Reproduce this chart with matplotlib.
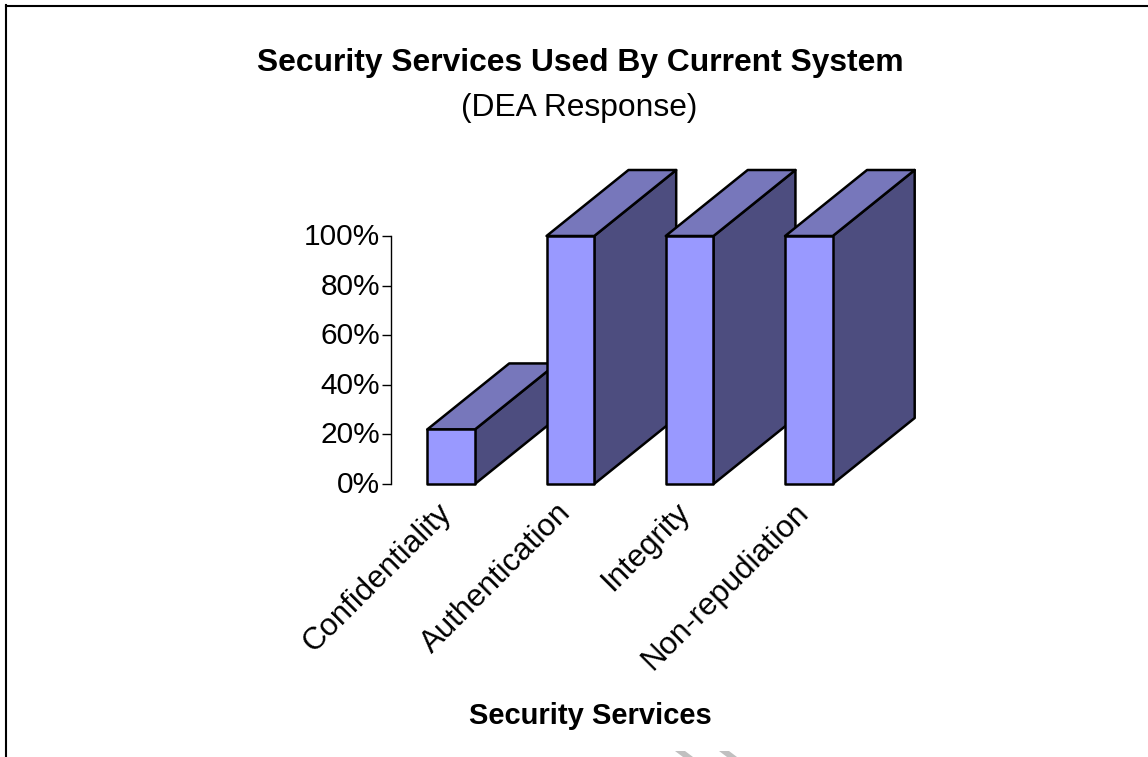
import matplotlib
matplotlib.use("Agg")
from matplotlib import pyplot as plt
from matplotlib.lines import Line2D
from matplotlib.patches import Polygon
from matplotlib.transforms import ScaledTranslation

plt.rcParams["font.family"] = ["Liberation Sans", "DejaVu Sans"]

# data
services = ["Confidentiality", "Authentication", "Integrity", "Non-repudiation"]
values = [0.22, 1.0, 1.0, 1.0]
yticks = [0, 0.2, 0.4, 0.6, 0.8, 1.0]
ytick_labels = ["0%", "20%", "40%", "60%", "80%", "100%"]

W, H = 1148, 757
FRONT = "#9999ff"
TOP = "#7777bb"
SIDE = "#4d4d7f"
BAR_WIDTH = 0.4
DEPTH_X = 82 / 119.3  # in category units
DEPTH_Y = 66 / 248  # in axis units
LW = 1.8


def fx(px):
    return px / W


def fy(px):
    return 1 - px / H


fig = plt.figure(figsize=(W / 100, H / 100), dpi=100)
ax = fig.add_axes([fx(391.5), fy(484), (868 - 391) / W, (484 - 236) / H])
ax.set_xlim(-0.5, 3.5)
ax.set_ylim(0, 1)

# fake 3d bars, left to right so later fronts cover earlier sides
for i, v in enumerate(values):
    x0, x1 = i - BAR_WIDTH / 2, i + BAR_WIDTH / 2
    dx, dy = DEPTH_X, DEPTH_Y
    faces = [
        ([(x1, 0), (x1 + dx, dy), (x1 + dx, v + dy), (x1, v)], SIDE),
        ([(x0, v), (x0 + dx, v + dy), (x1 + dx, v + dy), (x1, v)], TOP),
        ([(x0, 0), (x1, 0), (x1, v), (x0, v)], FRONT),
    ]
    for pts, color in faces:
        ax.add_patch(Polygon(pts, closed=True, facecolor=color, edgecolor="black",
                             linewidth=LW, joinstyle="round", clip_on=False, zorder=3 + i))

for side in ["top", "right", "bottom"]:
    ax.spines[side].set_visible(False)
ax.spines["left"].set_linewidth(1.0)
ax.spines["left"].set_position(("outward", 0.5))
ax.patch.set_visible(False)

ax.set_yticks(yticks)
ax.set_yticklabels(ytick_labels, fontsize=21.5)
ax.tick_params(axis="y", length=6.5, width=1.0, pad=1)
for label in ax.get_yticklabels():
    label.set_transform(label.get_transform() + ScaledTranslation(0, 2 / 100, fig.dpi_scale_trans))

ax.set_xticks(range(len(services)))
ax.set_xticklabels(services, fontsize=22.5, rotation=45, ha="right", rotation_mode="anchor")
ax.tick_params(axis="x", length=0, pad=6)
for label in ax.get_xticklabels():
    label.set_transform(label.get_transform() + ScaledTranslation(-15 / 100, -5 / 100, fig.dpi_scale_trans))

# titles
fig.text(fx(580.5), fy(63.5), "Security Services Used By Current System", fontsize=22.9,
         fontweight="bold", ha="center", va="center")
fig.text(fx(579.5), fy(108), "(DEA Response)", fontsize=22.9, ha="center", va="center")
fig.text(fx(590.5), fy(716), "Security Services", fontsize=21, fontweight="bold",
         ha="center", va="center")

# page frame, only top and left are in the crop
fig.add_artist(Line2D([fx(6), fx(6)], [0, fy(5)], color="black", linewidth=1.5))
fig.add_artist(Line2D([fx(6), 1], [fy(5.5), fy(5.5)], color="black", linewidth=1.5))

# grey marks cut off at the bottom edge
for left in [675, 719]:
    pts = [(fx(left), fy(751)), (fx(left + 10), fy(751)), (fx(left + 18), fy(757)), (fx(left + 8), fy(757))]
    fig.add_artist(Polygon(pts, closed=True, facecolor="#c0c0c0", edgecolor="none",
                           transform=fig.transFigure))

plt.savefig("out.png", dpi=100)
